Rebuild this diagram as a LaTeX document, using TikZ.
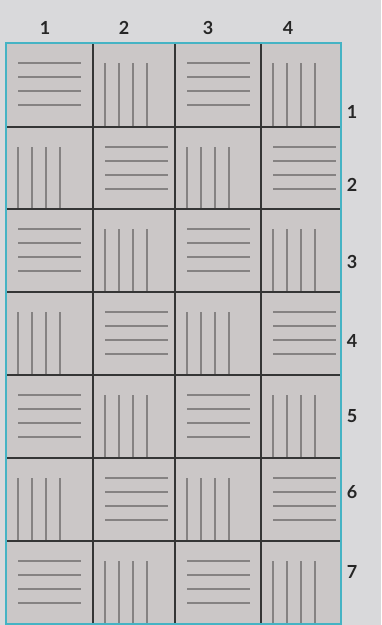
\documentclass[tikz,border=0pt]{standalone}
\usepackage{fontspec}
\setsansfont{Lato}

\definecolor{pagegrey}{HTML}{D9D9DB}
\definecolor{tilegrey}{HTML}{CBC7C7}
\definecolor{stripegrey}{HTML}{858282}
\definecolor{gridgrey}{HTML}{353535}
\definecolor{framecyan}{HTML}{45B3C4}
\definecolor{labelgrey}{HTML}{262626}

\begin{document}
\begin{tikzpicture}[
  x=1pt, y=-1pt, line cap=butt,
  stripe/.style={draw=stripegrey, line width=2.8pt},
  gridline/.style={draw=gridgrey, line width=2.4pt},
  frame/.style={draw=framecyan, line width=2.2pt},
  lbl/.style={font=\sffamily\bfseries\fontsize{18}{18}\selectfont, text=labelgrey}
]

  % ── Page ──────────────────────────────────────────────────────────────────
  \fill[pagegrey] (0,0) rectangle (381,625);
  \useasboundingbox (0,0) rectangle (381,625);

  % ── Tiles (checkerboard of stripes) ───────────────────────────────────────
  \fill[tilegrey] (6,43) rectangle (341,624);
  \foreach \r/\yt/\yb in {1/43/127, 2/127/209, 3/209/292, 4/292/375,
                          5/375/458, 6/458/541, 7/541/624}
    \foreach \c/\xl in {1/6, 2/93, 3/175, 4/261} {
      \pgfmathtruncatemacro{\odd}{mod(\r+\c,2)}
      \ifnum\odd=0
        % horizontal stripes
        \foreach \d in {20,34,48,62}
          \draw[stripe] (\xl+12, \yt+\d) -- (\xl+75, \yt+\d);
      \else
        % vertical stripes
        \foreach \d in {12,26,40,54}
          \draw[stripe] (\xl+\d, \yt+20) -- (\xl+\d, \yb);
      \fi
    }

  % ── Grid ──────────────────────────────────────────────────────────────────
  \foreach \xi in {93,175,261}
    \draw[gridline] (\xi,43) -- (\xi,624);
  \foreach \yi in {127,209,292,375,458,541}
    \draw[gridline] (6,\yi) -- (341,\yi);
  \draw[frame] (6,43) rectangle (341,624);

  % ── Labels ────────────────────────────────────────────────────────────────
  \foreach \c/\xc in {1/45, 2/124, 3/208, 4/288}
    \node[lbl] (col\c) at (\xc,28) {\c};
  \foreach \r/\yc in {1/112, 2/185, 3/262, 4/341, 5/416, 6/492, 7/572}
    \node[lbl] (row\r) at (352,\yc) {\r};

\end{tikzpicture}
\end{document}
